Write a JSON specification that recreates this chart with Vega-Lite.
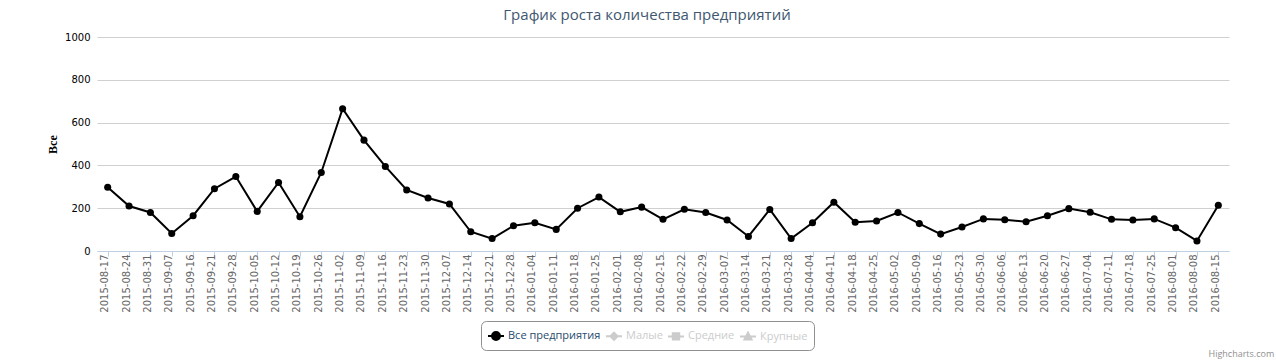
{
  "$schema": "https://vega.github.io/schema/vega-lite/v6.json",
  "width": 1132,
  "height": 214,
  "autosize": "none",
  "padding": {"left": 97, "top": 37, "right": 47, "bottom": 111},
  "background": "white",
  "config": {"view": {"stroke": null}, "font": "Open Sans"},
  "title": {
    "text": "График роста количества предприятий",
    "font": "Open Sans",
    "fontSize": 15,
    "fontWeight": "normal",
    "color": "#3E576F",
    "anchor": "middle",
    "dx": -16,
    "offset": 9
  },
  "data": {
    "values": [
      {"week": "2015-08-17", "value": 298, "series": "Все предприятия"},
      {"week": "2015-08-24", "value": 210, "series": "Все предприятия"},
      {"week": "2015-08-31", "value": 180, "series": "Все предприятия"},
      {"week": "2015-09-07", "value": 82, "series": "Все предприятия"},
      {"week": "2015-09-16", "value": 165, "series": "Все предприятия"},
      {"week": "2015-09-21", "value": 291, "series": "Все предприятия"},
      {"week": "2015-09-28", "value": 348, "series": "Все предприятия"},
      {"week": "2015-10-05", "value": 185, "series": "Все предприятия"},
      {"week": "2015-10-12", "value": 320, "series": "Все предприятия"},
      {"week": "2015-10-19", "value": 160, "series": "Все предприятия"},
      {"week": "2015-10-26", "value": 367, "series": "Все предприятия"},
      {"week": "2015-11-02", "value": 665, "series": "Все предприятия"},
      {"week": "2015-11-09", "value": 518, "series": "Все предприятия"},
      {"week": "2015-11-16", "value": 395, "series": "Все предприятия"},
      {"week": "2015-11-23", "value": 285, "series": "Все предприятия"},
      {"week": "2015-11-30", "value": 248, "series": "Все предприятия"},
      {"week": "2015-12-07", "value": 220, "series": "Все предприятия"},
      {"week": "2015-12-14", "value": 90, "series": "Все предприятия"},
      {"week": "2015-12-21", "value": 58, "series": "Все предприятия"},
      {"week": "2015-12-28", "value": 118, "series": "Все предприятия"},
      {"week": "2016-01-04", "value": 132, "series": "Все предприятия"},
      {"week": "2016-01-11", "value": 101, "series": "Все предприятия"},
      {"week": "2016-01-18", "value": 200, "series": "Все предприятия"},
      {"week": "2016-01-25", "value": 252, "series": "Все предприятия"},
      {"week": "2016-02-01", "value": 183, "series": "Все предприятия"},
      {"week": "2016-02-08", "value": 205, "series": "Все предприятия"},
      {"week": "2016-02-15", "value": 148, "series": "Все предприятия"},
      {"week": "2016-02-22", "value": 195, "series": "Все предприятия"},
      {"week": "2016-02-29", "value": 180, "series": "Все предприятия"},
      {"week": "2016-03-07", "value": 145, "series": "Все предприятия"},
      {"week": "2016-03-14", "value": 68, "series": "Все предприятия"},
      {"week": "2016-03-21", "value": 194, "series": "Все предприятия"},
      {"week": "2016-03-28", "value": 58, "series": "Все предприятия"},
      {"week": "2016-04-04", "value": 132, "series": "Все предприятия"},
      {"week": "2016-04-11", "value": 228, "series": "Все предприятия"},
      {"week": "2016-04-18", "value": 134, "series": "Все предприятия"},
      {"week": "2016-04-25", "value": 140, "series": "Все предприятия"},
      {"week": "2016-05-02", "value": 180, "series": "Все предприятия"},
      {"week": "2016-05-09", "value": 128, "series": "Все предприятия"},
      {"week": "2016-05-16", "value": 79, "series": "Все предприятия"},
      {"week": "2016-05-23", "value": 112, "series": "Все предприятия"},
      {"week": "2016-05-30", "value": 150, "series": "Все предприятия"},
      {"week": "2016-06-06", "value": 146, "series": "Все предприятия"},
      {"week": "2016-06-13", "value": 137, "series": "Все предприятия"},
      {"week": "2016-06-20", "value": 165, "series": "Все предприятия"},
      {"week": "2016-06-27", "value": 198, "series": "Все предприятия"},
      {"week": "2016-07-04", "value": 181, "series": "Все предприятия"},
      {"week": "2016-07-11", "value": 148, "series": "Все предприятия"},
      {"week": "2016-07-18", "value": 145, "series": "Все предприятия"},
      {"week": "2016-07-25", "value": 150, "series": "Все предприятия"},
      {"week": "2016-08-01", "value": 109, "series": "Все предприятия"},
      {"week": "2016-08-08", "value": 47, "series": "Все предприятия"},
      {"week": "2016-08-15", "value": 214, "series": "Все предприятия"}
    ]
  },
  "encoding": {
    "x": {
      "field": "week",
      "type": "ordinal",
      "sort": null,
      "scale": {"type": "point", "padding": 0.5},
      "axis": {
        "title": "Highcharts.com",
        "titleFont": "Open Sans",
        "titleFontSize": 9,
        "titleFontWeight": "normal",
        "titleColor": "#909090",
        "titleX": 1111,
        "titleY": 105,
        "titleAlign": "left",
        "titleBaseline": "alphabetic",
        "titleAngle": 0,
        "labelAngle": -90,
        "labelFont": "DejaVu Sans",
        "labelFontSize": 10,
        "labelColor": "#666666",
        "labelAlign": "right",
        "labelBaseline": "alphabetic",
        "labelPadding": -2,
        "labelOverlap": false,
        "tickSize": 5,
        "tickColor": "#C0D0E0",
        "domainColor": "#C0D0E0",
        "grid": false
      }
    },
    "y": {
      "field": "value",
      "type": "quantitative",
      "scale": {"domain": [0, 1000]},
      "axis": {
        "title": "Все",
        "titleFont": "Liberation Serif",
        "titleFontSize": 12,
        "titleFontWeight": "bold",
        "titleColor": "#000000",
        "titleX": -45,
        "titleY": 107,
        "titleAngle": -90,
        "titleAlign": "center",
        "titleBaseline": "middle",
        "values": [0, 200, 400, 600, 800, 1000],
        "format": "d",
        "labelFont": "DejaVu Sans",
        "labelFontSize": 10,
        "labelColor": "#000000",
        "labelPadding": 7,
        "ticks": false,
        "domain": false,
        "gridColor": "#D0D0D0"
      }
    },
    "color": {
      "field": "series",
      "type": "nominal",
      "scale": {
        "domain": ["Все предприятия", "Малые", "Средние", "Крупные"],
        "range": ["#000000", "#cccccc", "#cccccc", "#cccccc"]
      },
      "legend": {
        "orient": "none",
        "legendX": 384,
        "legendY": 284,
        "direction": "horizontal",
        "title": null,
        "strokeColor": "#909090",
        "cornerRadius": 5,
        "padding": 6,
        "labelFont": "Open Sans",
        "labelFontSize": 11,
        "labelOffset": 3,
        "columnPadding": 1,
        "symbolSize": 256,
        "symbolStrokeWidth": 2,
        "encode": {
          "labels": {
            "update": {
              "fill": {"signal": "datum.value === 'Все предприятия' ? '#274b6d' : '#cccccc'"}
            }
          },
          "symbols": {
            "update": {
              "shape": {"signal": "datum.value === 'Все предприятия' ? 'M-1,0L1,0M-0.5,0A0.5,0.5,0,1,1,0.5,0A0.5,0.5,0,1,1,-0.5,0Z' : datum.value === 'Малые' ? 'M-1,0L1,0M0,-0.45L0.45,0L0,0.45L-0.45,0Z' : datum.value === 'Средние' ? 'M-1,0L1,0M-0.4,-0.4L0.4,-0.4L0.4,0.4L-0.4,0.4Z' : 'M-1,0L1,0M0,-0.5L0.45,0.35L-0.45,0.35Z'"},
              "fill": {"signal": "datum.value === 'Все предприятия' ? '#000000' : '#cccccc'"},
              "stroke": {"signal": "datum.value === 'Все предприятия' ? '#000000' : '#cccccc'"},
              "strokeWidth": {"value": 2},
              "opacity": {"value": 1}
            }
          }
        }
      }
    }
  },
  "layer": [
    {"mark": {"type": "line", "strokeWidth": 2}},
    {"mark": {"type": "point", "filled": true, "size": 50, "opacity": 1}}
  ]
}
